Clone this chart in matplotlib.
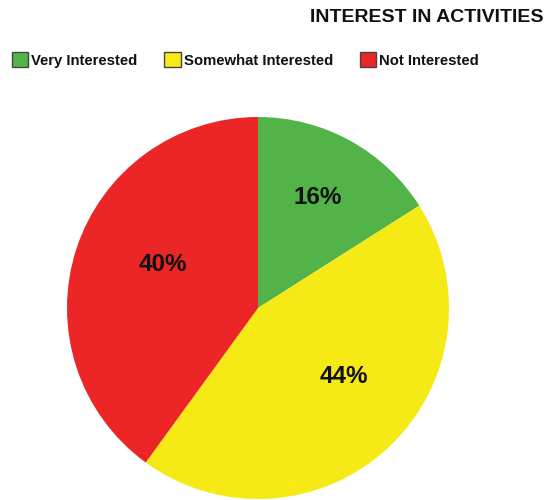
import matplotlib.pyplot as plt

plt.rcParams['font.family'] = ['Liberation Sans', 'DejaVu Sans']

categories = ["Very Interested", "Somewhat Interested", "Not Interested"]
shares = [16, 44, 40]
colors = ["#52b448", "#f5e916", "#ec2527"]

# label offsets from the pie centre, as fraction of radius (x, y)
label_pos = [(0.31, 0.58), (0.45, -0.36), (-0.50, 0.23)]

fig = plt.figure(figsize=(5.51, 5.00), dpi=100)
ax = fig.add_axes([0, 0, 1, 1])

cx, cy, r = 258, 192, 191
wedges, _ = ax.pie(shares, colors=colors, startangle=90, counterclock=False,
                   center=(cx, cy), radius=r, frame=True,
                   wedgeprops=dict(linewidth=0))
ax.set_xlim(0, 551)
ax.set_ylim(0, 500)
ax.axis("off")

for val, (dx, dy) in zip(shares, label_pos):
    ax.text(cx + dx * r, cy + dy * r, f"{val}%", ha="center", va="center",
            fontsize=17.5, fontweight="bold", color="#111111")

fig.text(543 / 551, 1 - 17 / 500, "INTEREST IN ACTIVITIES", ha="right", va="center",
         fontsize=14, fontweight="bold", color="#111111")

handles = [plt.Rectangle((0, 0), 1, 1, facecolor=c, edgecolor="#444444", linewidth=1)
           for c in colors]
leg = fig.legend(handles, categories, loc="center left", bbox_to_anchor=(0.011, 1 - 60 / 500),
                 ncol=3, frameon=False, handlelength=1.1, handleheight=1.15,
                 handletextpad=0.2, columnspacing=1.8, borderaxespad=0,
                 prop=dict(size=10.7, weight="bold"))
for t in leg.get_texts():
    t.set_color("#111111")

fig.savefig("out.png", dpi=100)
